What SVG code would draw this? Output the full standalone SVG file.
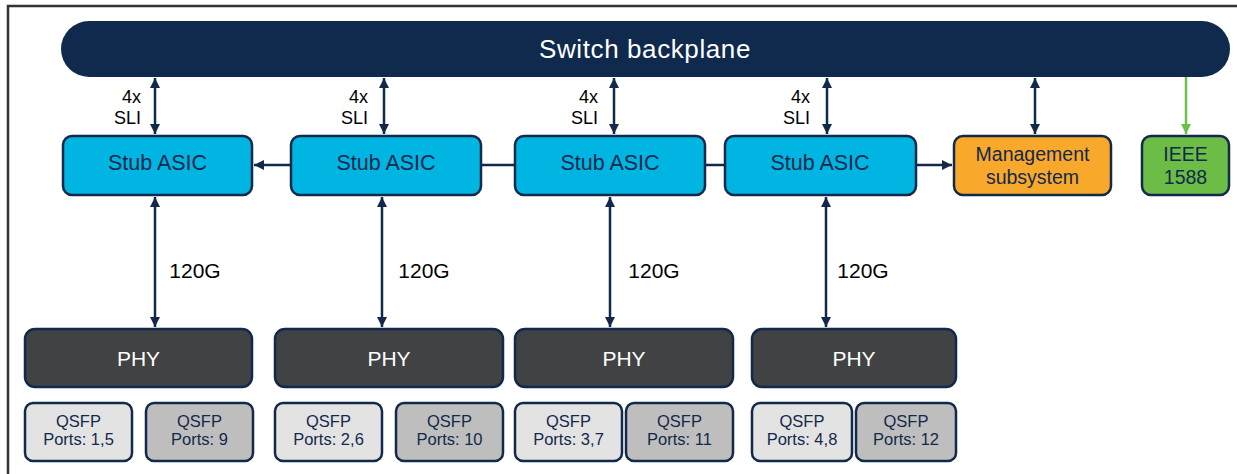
<svg xmlns="http://www.w3.org/2000/svg" width="1237" height="474" viewBox="0 0 1237 474">
<defs>
<marker id="ah" viewBox="0 0 10 10" refX="10" refY="5" markerWidth="10" markerHeight="10" markerUnits="userSpaceOnUse" orient="auto-start-reverse"><path d="M0,0 L10,5 L0,10 z" fill="#13294B"/></marker>
<marker id="ahg" viewBox="0 0 10 10" refX="10" refY="5" markerWidth="10" markerHeight="10" markerUnits="userSpaceOnUse" orient="auto"><path d="M0,0 L10,5 L0,10 z" fill="#6CC04A"/></marker>
<style>
text{font-family:"Liberation Sans",Arial,sans-serif;text-anchor:middle;dominant-baseline:central}
.asic rect{fill:#00B5E2;stroke:#13294B;stroke-width:2.5}
.asic text{fill:#13294B;font-size:21.5px}
.phy rect{fill:#404244;stroke:#13294B;stroke-width:2.5}
.phy text{fill:#FFFFFF;font-size:21px}
.ql rect{fill:#E3E3E3;stroke:#13294B;stroke-width:2.5}
.qd rect{fill:#BEBEBE;stroke:#13294B;stroke-width:2.5}
.ql text,.qd text{fill:#13294B;font-size:16.5px}
.c{stroke:#13294B;stroke-width:2.5;fill:none}
.lbl{fill:#000;font-size:21px}
.sli{fill:#000;font-size:18px;text-anchor:end}
.two{fill:#13294B;font-size:19.5px}
</style>
</defs>
<rect x="0" y="0" width="1237" height="474" fill="#FFFFFF"/>
<path d="M8,474 V6 H1237" fill="none" stroke="#333333" stroke-width="2.5"/>

<g id="backplane">
<rect x="61" y="21" width="1169" height="56" rx="28" fill="#0F2A4D"/>
<text x="645" y="49" fill="#FFFFFF" font-size="26" letter-spacing="0.6">Switch backplane</text>
</g>

<g id="asic1" class="asic"><rect x="63" y="136" width="189" height="59" rx="9"/><text x="157.5" y="163">Stub ASIC</text></g>
<g id="asic2" class="asic"><rect x="291" y="136" width="190" height="59" rx="9"/><text x="386" y="163">Stub ASIC</text></g>
<g id="asic3" class="asic"><rect x="515" y="136" width="190" height="59" rx="9"/><text x="610" y="163">Stub ASIC</text></g>
<g id="asic4" class="asic"><rect x="725" y="136" width="191" height="59" rx="9"/><text x="820" y="163">Stub ASIC</text></g>
<g id="mgmt"><rect x="954" y="136" width="157" height="59" rx="9" fill="#F8A82B" stroke="#13294B" stroke-width="2.5"/><text class="two" x="1032.5" y="154">Management</text><text class="two" x="1032.5" y="177">subsystem</text></g>
<g id="ieee"><rect x="1142" y="136" width="87" height="59" rx="9" fill="#6CBD45" stroke="#13294B" stroke-width="2.5"/><text class="two" x="1185.5" y="154">IEEE</text><text class="two" x="1185.5" y="177">1588</text></g>

<g id="phy1" class="phy"><rect x="25" y="329" width="227" height="58" rx="10"/><text x="138.5" y="358">PHY</text></g>
<g id="phy2" class="phy"><rect x="275" y="329" width="228" height="58" rx="10"/><text x="389" y="358">PHY</text></g>
<g id="phy3" class="phy"><rect x="515" y="329" width="218" height="58" rx="10"/><text x="624" y="358">PHY</text></g>
<g id="phy4" class="phy"><rect x="752" y="329" width="204" height="58" rx="10"/><text x="854" y="358">PHY</text></g>

<g id="q1" class="ql"><rect x="25" y="403" width="107" height="58" rx="8"/><text x="78.5" y="421">QSFP</text><text x="78.5" y="439">Ports: 1,5</text></g>
<g id="q2" class="qd"><rect x="146" y="403" width="107" height="58" rx="8"/><text x="199.5" y="421">QSFP</text><text x="199.5" y="439">Ports: 9</text></g>
<g id="q3" class="ql"><rect x="275" y="403" width="107" height="58" rx="8"/><text x="328.5" y="421">QSFP</text><text x="328.5" y="439">Ports: 2,6</text></g>
<g id="q4" class="qd"><rect x="396" y="403" width="107" height="58" rx="8"/><text x="449.5" y="421">QSFP</text><text x="449.5" y="439">Ports: 10</text></g>
<g id="q5" class="ql"><rect x="515" y="403" width="107" height="58" rx="8"/><text x="568.5" y="421">QSFP</text><text x="568.5" y="439">Ports: 3,7</text></g>
<g id="q6" class="qd"><rect x="626" y="403" width="107" height="58" rx="8"/><text x="679.5" y="421">QSFP</text><text x="679.5" y="439">Ports: 11</text></g>
<g id="q7" class="ql"><rect x="752" y="403" width="100" height="58" rx="8"/><text x="802" y="421">QSFP</text><text x="802" y="439">Ports: 4,8</text></g>
<g id="q8" class="qd"><rect x="856" y="403" width="100" height="58" rx="8"/><text x="906" y="421">QSFP</text><text x="906" y="439">Ports: 12</text></g>

<g id="connectors">
<path class="c" d="M155,78 V134" marker-start="url(#ah)" marker-end="url(#ah)"/>
<path class="c" d="M384,78 V134" marker-start="url(#ah)" marker-end="url(#ah)"/>
<path class="c" d="M614,78 V134" marker-start="url(#ah)" marker-end="url(#ah)"/>
<path class="c" d="M827,78 V134" marker-start="url(#ah)" marker-end="url(#ah)"/>
<path class="c" d="M1035,78 V134" marker-start="url(#ah)" marker-end="url(#ah)"/>
<path d="M1186,77 V134" stroke="#6CC04A" stroke-width="2.5" fill="none" marker-end="url(#ahg)"/>
<path class="c" d="M291,165 H254" marker-end="url(#ah)"/>
<path class="c" d="M481,165 H515"/>
<path class="c" d="M705,165 H725"/>
<path class="c" d="M916,165 H952" marker-end="url(#ah)"/>
<path class="c" d="M155,197 V327" marker-start="url(#ah)" marker-end="url(#ah)"/>
<path class="c" d="M382,197 V327" marker-start="url(#ah)" marker-end="url(#ah)"/>
<path class="c" d="M610,197 V327" marker-start="url(#ah)" marker-end="url(#ah)"/>
<path class="c" d="M826,197 V327" marker-start="url(#ah)" marker-end="url(#ah)"/>
<text class="sli" x="141" y="97">4x</text><text class="sli" x="141" y="118">SLI</text>
<text class="sli" x="368" y="97">4x</text><text class="sli" x="368" y="118">SLI</text>
<text class="sli" x="598" y="97">4x</text><text class="sli" x="598" y="118">SLI</text>
<text class="sli" x="810" y="97">4x</text><text class="sli" x="810" y="118">SLI</text>
<text class="lbl" x="195" y="270">120G</text>
<text class="lbl" x="424" y="270">120G</text>
<text class="lbl" x="654" y="270">120G</text>
<text class="lbl" x="863" y="270">120G</text>
</g>
</svg>
